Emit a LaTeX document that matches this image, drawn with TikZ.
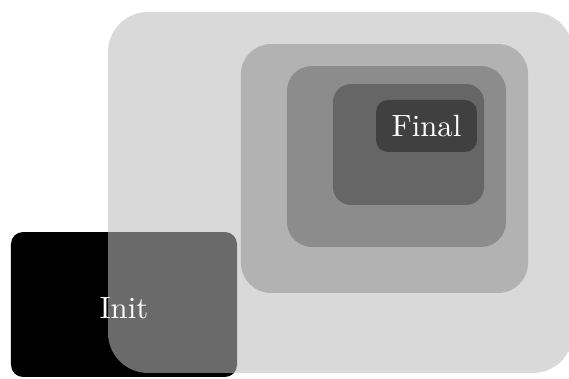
\documentclass[tikz,border=0pt]{standalone}
\usetikzlibrary{positioning}
\definecolor{outergray}{gray}{0.737}
\tikzset{
  state/.style   ={rounded corners=3.9pt, inner sep=0pt, outer sep=0pt, text=white},
  initst/.style  ={state, fill=black, minimum width=73.45pt, minimum height=47.1pt},
  initlbl/.style ={inner sep=0pt, text=white},
  finalst/.style ={state, fill=black!75, minimum width=32.8pt, minimum height=16.9pt},
  lvl/.style     ={inner sep=0pt, outer sep=0pt},
  lvlA/.style    ={lvl, rounded corners=13pt, fill=outergray, fill opacity=0.57, minimum width=151.1pt, minimum height=117.3pt},
  lvlB/.style    ={lvl, rounded corners=9.75pt, fill=black!30, minimum width=93.3pt, minimum height=80.9pt},
  lvlC/.style    ={lvl, rounded corners=8.1pt, fill=black!45, minimum width=71.2pt, minimum height=58.8pt},
  lvlD/.style    ={lvl, rounded corners=5.85pt, fill=black!60, minimum width=49.1pt, minimum height=39.3pt},
}
\begin{document}
\begin{tikzpicture}[x=0.325pt,y=-0.325pt]
  \useasboundingbox (0,0) rectangle (569,379);
  \clip (0,0) rectangle (569,379);
  % start state, partly under the outer region
  \node[initst] (init) at (124,304.5) {};
  % nested regions
  \node[lvlA] (outer) at (340.5,192.5) {};
  \node[lvlB] (mid)   at (384.5,168.5) {};
  \node[lvlC] (inner) at (396.5,156.5) {};
  \node[lvlD] (core)  at (408.5,144.5) {};
  % state names on top
  \node[initlbl] (initname) at ([yshift=-1.2pt]init.center) {Init};
  \node[finalst] (final) at (426.5,126) {Final};
\end{tikzpicture}
\end{document}
